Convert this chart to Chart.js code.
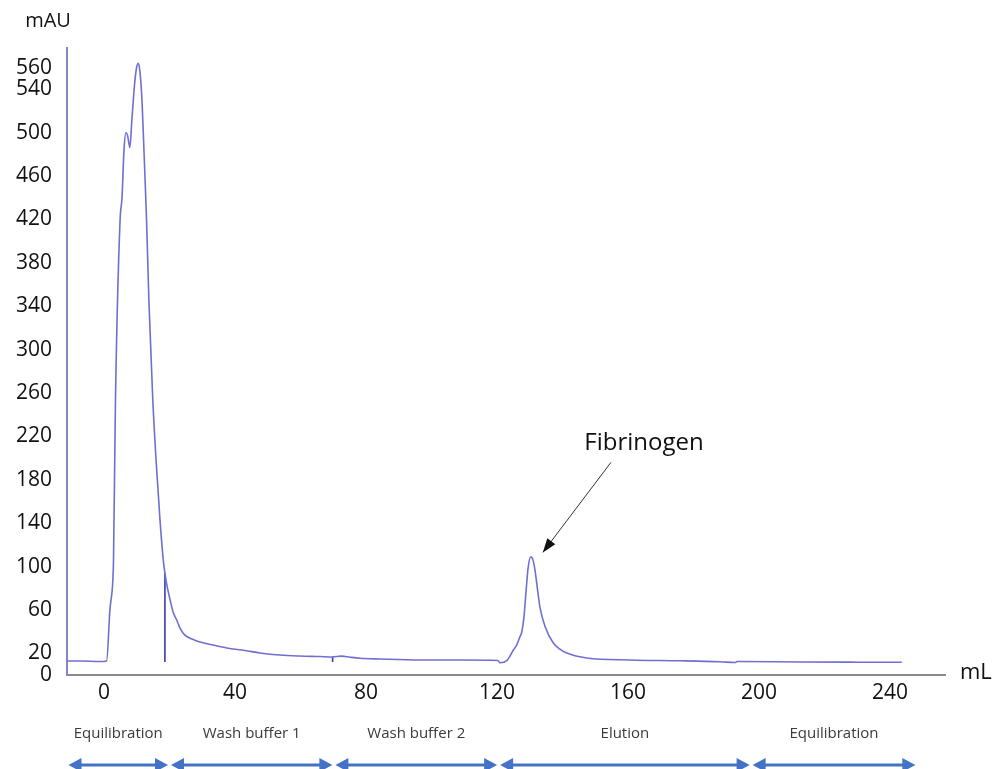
<!DOCTYPE html>
<html>
<head>
<meta charset="utf-8">
<script src="https://cdn.jsdelivr.net/npm/chart.js"></script>
<style>
  body{margin:0;background:#fff;}
  #wrap{width:998px;height:769px;}
</style>
</head>
<body>
<div id="wrap"><canvas id="myChromatogram" width="998" height="769"></canvas></div>
<script>
// elution volume (mL) and absorbance (mAU)
var volume=[-11.3,-7.3,-1.2,0.8,1.8,2.7,2.9,3.5,4.9,5.5,6.1,6.7,7.2,7.9,8.5,9.3,9.9,10.5,11.0,11.6,12.2,13.0,13.7,14.9,15.9,17.1,18.1,18.6,19.2,20.2,21.1,22.2,23.2,24.7,26.9,29.3,33.3,37.5,43.1,47.6,53.7,59.8,66.0,69.5,72.6,75.1,78.2,84.3,96.5,108.7,120.3,120.9,123.0,125.0,126.0,127.0,127.5,128.2,128.9,129.5,130.3,131.0,131.6,132.4,133.1,134.7,137.2,139.2,141.3,147.4,160.6,175.9,188.1,192.7,193.3,212.5,230.8,243.6];
var absorbance=[12.9,12.9,12.4,12.9,59.9,87.5,105.9,253.3,419,440,483.6,500.1,497.4,486.3,511.2,543.4,559.1,564,555.4,529.6,483.6,419.1,345.4,253.3,198,142.8,105.9,93.9,82.9,69.1,58,50.7,43.3,36.8,33.2,30.4,27.6,24.9,22.6,20.3,18.4,17.5,17.0,16.6,17.4,16.4,15.4,14.7,13.8,13.8,13.4,11.3,13.2,23,27.6,35.3,38.7,52.5,78.3,98.6,109,105.9,96.7,78.3,62.9,44.5,29.5,23.9,20.3,15.7,13.8,13.1,12.2,11.5,12.4,12,11.8,11.7];

// short injection / valve spikes
var spikeVolume=[18.6,69.8];
var spikeTop=[93.9,16.6];
var spikeBottom=[12,12];

var xTicks=[0,40,80,120,160,200,240];
var yTicks=[0,20,60,100,140,180,220,260,300,340,380,420,460,500,540,560];

var phaseLabels=['Equilibration','Wash buffer 1','Wash buffer 2','Elution','Equilibration'];
var phaseStart=[-11.3,20,70.2,120.5,197.6];
var phaseEnd=[20,70.2,120.5,197.6,248.2];

var peakLabel='Fibrinogen';
var peakTip=[134,113];
var peakTail=[154.8,196];
var peakText=[164.9,214];

var trace=[];
for(var i in volume){
  trace.push({x:volume[i],y:absorbance[i]});
}
var datasets=[{
  data:trace,
  showLine:true,
  borderColor:'#6f6fd2',
  borderWidth:1.6,
  pointRadius:0,
  cubicInterpolationMode:'monotone'
}];
for(var j in spikeVolume){
  datasets.push({
    data:[{x:spikeVolume[j],y:spikeTop[j]},{x:spikeVolume[j],y:spikeBottom[j]}],
    showLine:true,
    borderColor:'#3b3bb0',
    borderWidth:1.6,
    pointRadius:0
  });
}

function arrowHead(ctx,x1,y1,x2,y2,len,half){
  var a=Math.atan2(y2-y1,x2-x1);
  ctx.beginPath();
  ctx.moveTo(x2,y2);
  ctx.lineTo(x2-len*Math.cos(a)+half*Math.sin(a),y2-len*Math.sin(a)-half*Math.cos(a));
  ctx.lineTo(x2-len*Math.cos(a)-half*Math.sin(a),y2-len*Math.sin(a)+half*Math.cos(a));
  ctx.closePath();
  ctx.fill();
}

var extras={
  id:'extras',
  afterDraw:function(chart){
    var ctx=chart.ctx;
    var xs=chart.scales.x, ys=chart.scales.y;
    ctx.save();
    // axis titles
    ctx.fillStyle='#111';
    ctx.textBaseline='middle';
    ctx.textAlign='center';
    ctx.font='20px "Open Sans"';
    ctx.fillText('mAU',48,21);
    ctx.font='22px "Open Sans"';
    ctx.textAlign='left';
    ctx.fillText('mL',960,673);

    // peak annotation
    var tx=xs.getPixelForValue(peakTip[0]), ty=ys.getPixelForValue(peakTip[1]);
    var sx=xs.getPixelForValue(peakTail[0]), sy=ys.getPixelForValue(peakTail[1]);
    ctx.strokeStyle='#333';
    ctx.fillStyle='#111';
    ctx.lineWidth=1;
    ctx.beginPath();
    ctx.moveTo(sx,sy);
    ctx.lineTo(tx,ty);
    ctx.stroke();
    arrowHead(ctx,sx,sy,tx,ty,14,5);
    ctx.font='24px "Open Sans"';
    ctx.textAlign='center';
    ctx.fillText(peakLabel,xs.getPixelForValue(peakText[0]),ys.getPixelForValue(peakText[1]));

    // buffer phases
    ctx.font='15px "Open Sans"';
    ctx.strokeStyle='#4472c4';
    ctx.lineWidth=3;
    for(var k in phaseLabels){
      var a=xs.getPixelForValue(phaseStart[k])+1.5;
      var b=xs.getPixelForValue(phaseEnd[k])-1.5;
      ctx.fillStyle='#3a3a3a';
      ctx.fillText(phaseLabels[k],(a+b)/2,734);
      ctx.fillStyle='#4472c4';
      ctx.beginPath();
      ctx.moveTo(a+8,765);
      ctx.lineTo(b-8,765);
      ctx.stroke();
      arrowHead(ctx,b,765,a,765,13,7);
      arrowHead(ctx,a,765,b,765,13,7);
    }
    ctx.restore();
  }
};

var ctx=document.getElementById('myChromatogram');
var chart=new Chart(ctx,{
  type:'scatter',
  data:{datasets:datasets},
  options:{
    responsive:false,
    animation:false,
    layout:{padding:{top:48,right:53,left:0,bottom:0}},
    plugins:{legend:{display:false},tooltip:{enabled:false}},
    scales:{
      x:{
        type:'linear',
        min:-11.3,
        max:256.8,
        afterBuildTicks:function(s){s.ticks=xTicks.map(function(v){return {value:v};});},
        afterFit:function(s){s.height=94;},
        grid:{display:false,drawTicks:false},
        border:{display:true,color:'#8a8a8a',width:2},
        ticks:{color:'#111',font:{family:'Open Sans',size:21},padding:5,maxRotation:0}
      },
      y:{
        type:'linear',
        min:0,
        max:578,
        afterBuildTicks:function(s){s.ticks=yTicks.map(function(v){return {value:v};});},
        afterFit:function(s){s.width=67;},
        grid:{display:false,drawTicks:false},
        border:{display:true,color:'#8585c4',width:2},
        ticks:{color:'#111',font:{family:'Open Sans',size:21},padding:15,autoSkip:false}
      }
    }
  },
  plugins:[extras]
});
</script>
</body>
</html>
